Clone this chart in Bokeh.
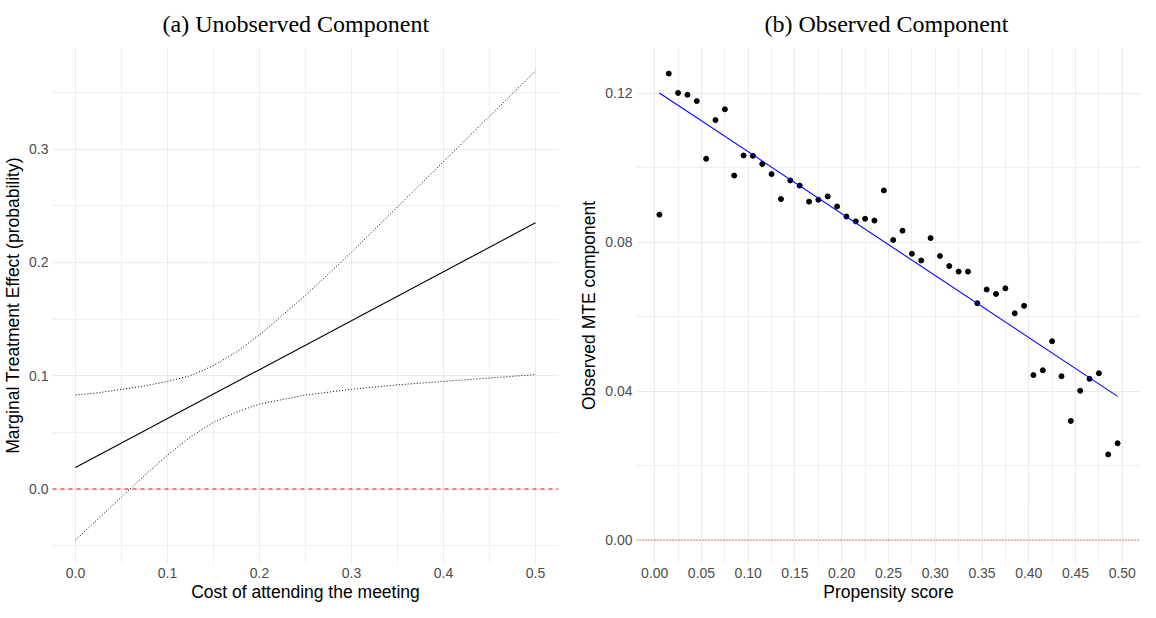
from bokeh.plotting import figure
from bokeh.layouts import row
from bokeh.models import Range1d, FixedTicker, Span
from bokeh.embed import file_html
from bokeh.resources import INLINE

# ---------------- Panel (a): unobserved component ----------------
cost_grid = [0.0, 0.025, 0.05, 0.075, 0.1, 0.125, 0.15, 0.175, 0.2,
             0.25, 0.3, 0.35, 0.4, 0.45, 0.5]
ci_upper = [0.083, 0.085, 0.088, 0.091, 0.095, 0.100, 0.109, 0.121, 0.136,
            0.171, 0.209, 0.249, 0.289, 0.329, 0.369]
ci_lower = [-0.045, -0.026, -0.007, 0.012, 0.030, 0.046, 0.059, 0.068, 0.075,
            0.083, 0.088, 0.092, 0.095, 0.098, 0.101]
mte_cost = [0.0, 0.5]
mte_value = [0.019, 0.235]
a_xticks = [0.0, 0.1, 0.2, 0.3, 0.4, 0.5]
a_xminor = [0.05, 0.15, 0.25, 0.35, 0.45]
a_yticks = [0.0, 0.1, 0.2, 0.3]
a_yminor = [-0.05, 0.05, 0.15, 0.25, 0.35]
a_xlabels = ["0.0", "0.1", "0.2", "0.3", "0.4", "0.5"]
a_ylabels = ["0.0", "0.1", "0.2", "0.3"]

# ---------------- Panel (b): observed component ----------------
propensity = [0.005, 0.015, 0.025, 0.035, 0.045, 0.055, 0.065, 0.075, 0.085, 0.095,
              0.105, 0.115, 0.125, 0.135, 0.145, 0.155, 0.165, 0.175, 0.185, 0.195,
              0.205, 0.215, 0.225, 0.235, 0.245, 0.255, 0.265, 0.275, 0.285, 0.295,
              0.305, 0.315, 0.325, 0.335, 0.345, 0.355, 0.365, 0.375, 0.385, 0.395,
              0.405, 0.415, 0.425, 0.435, 0.445, 0.455, 0.465, 0.475, 0.485, 0.495]
observed_mte = [0.0874, 0.1253, 0.1201, 0.1196, 0.1179, 0.1024, 0.1128, 0.1157, 0.0979, 0.1033,
                0.1032, 0.1010, 0.0983, 0.0916, 0.0966, 0.0952, 0.0909, 0.0914, 0.0923, 0.0896,
                0.0869, 0.0856, 0.0863, 0.0858, 0.0939, 0.0806, 0.0831, 0.0769, 0.0751, 0.0811,
                0.0763, 0.0736, 0.0721, 0.0721, 0.0636, 0.0673, 0.0661, 0.0676, 0.0609, 0.0629,
                0.0443, 0.0456, 0.0534, 0.0440, 0.0320, 0.0401, 0.0433, 0.0448, 0.0230, 0.0260]
fit_p = [0.005, 0.495]
fit_mte = [0.1201, 0.0386]
b_xticks = [0.0, 0.05, 0.1, 0.15, 0.2, 0.25, 0.3, 0.35, 0.4, 0.45, 0.5]
b_xminor = [0.025, 0.075, 0.125, 0.175, 0.225, 0.275, 0.325, 0.375, 0.425, 0.475]
b_yticks = [0.0, 0.04, 0.08, 0.12]
b_yminor = [0.02, 0.06, 0.10]
b_xlabels = ["0.00", "0.05", "0.10", "0.15", "0.20", "0.25", "0.30", "0.35", "0.40", "0.45", "0.50"]
b_ylabels = ["0.00", "0.04", "0.08", "0.12"]

zero_level = 0.0
title_a = "(a) Unobserved Component"
title_b = "(b) Observed Component"

SANS = "Liberation Sans"
SERIF = "Liberation Serif"
GRID = "#ebebeb"


def style(p, xt, xm, xl, yt, ym, yl, xtitle, ytitle, title, offset):
    p.outline_line_color = None
    p.background_fill_color = "white"
    p.border_fill_color = "white"
    p.xaxis.ticker = FixedTicker(ticks=xt, minor_ticks=xm)
    p.yaxis.ticker = FixedTicker(ticks=yt, minor_ticks=ym)
    p.xaxis.major_label_overrides = {t: s for t, s in zip(xt, xl)}
    p.yaxis.major_label_overrides = {t: s for t, s in zip(yt, yl)}
    for ax in (p.xaxis, p.yaxis):
        ax.axis_line_color = None
        ax.major_tick_line_color = None
        ax.minor_tick_line_color = None
        ax.major_tick_out = 0
        ax.major_tick_in = 0
        ax.minor_tick_out = 0
        ax.minor_tick_in = 0
        ax.major_label_text_font = SANS
        ax.major_label_text_font_size = "14px"
        ax.major_label_text_color = "#4d4d4d"
        ax.axis_label_text_font = SANS
        ax.axis_label_text_font_size = "17.5px"
        ax.axis_label_text_font_style = "normal"
        ax.axis_label_text_color = "black"
    p.xaxis.major_label_standoff = 4
    p.xaxis.axis_label_standoff = 1
    p.yaxis.major_label_standoff = 4
    p.yaxis.axis_label_standoff = 3
    p.xaxis.axis_label = xtitle
    p.yaxis.axis_label = ytitle
    for g in (p.xgrid, p.ygrid):
        g.grid_line_color = GRID
        g.grid_line_width = 1.1
        g.minor_grid_line_color = GRID
        g.minor_grid_line_width = 0.8
    p.title.text = title
    p.title.align = "left"
    p.title.offset = offset
    p.title.vertical_align = "top"
    p.title.text_font = SERIF
    p.title.text_font_size = "24px"
    p.title.text_font_style = "normal"
    p.title.text_color = "black"
    p.title.standoff = 18


# ---------- figure A ----------
pa = figure(width=576, height=604, output_backend="svg", toolbar_location=None,
            x_range=Range1d(-0.025, 0.525), y_range=Range1d(-0.0657, 0.3897),
            min_border_left=45, min_border_right=18, min_border_top=47, min_border_bottom=35)
style(pa, a_xticks, a_xminor, a_xlabels, a_yticks, a_yminor, a_ylabels,
      "Cost of attending the meeting", "Marginal Treatment Effect (probability)",
      title_a, 110)
pa.add_layout(Span(location=zero_level, dimension="width", line_color="red",
                   line_width=1.1, line_dash="4 4"))
pa.line(cost_grid, ci_upper, line_color="black", line_width=1, line_dash="1 2")
pa.line(cost_grid, ci_lower, line_color="black", line_width=1, line_dash="1 2")
pa.line(mte_cost, mte_value, line_color="black", line_width=1.1)

# ---------- figure B ----------
pb = figure(width=564, height=604, output_backend="svg", toolbar_location=None,
            x_range=Range1d(-0.0195, 0.5195), y_range=Range1d(-0.0063, 0.1323),
            min_border_left=59, min_border_right=0, min_border_top=47, min_border_bottom=35)
style(pb, b_xticks, b_xminor, b_xlabels, b_yticks, b_yminor, b_ylabels,
      "Propensity score", "Observed MTE component", title_b, 128)
pb.add_layout(Span(location=zero_level, dimension="width", line_color="red",
                   line_width=1, line_dash="1 2"))
pb.scatter(propensity, observed_mte, size=5, color="black")
pb.line(fit_p, fit_mte, line_color="blue", line_width=1.1)

layout = row(pa, pb)
open("out.html", "w").write(file_html(layout, INLINE))
